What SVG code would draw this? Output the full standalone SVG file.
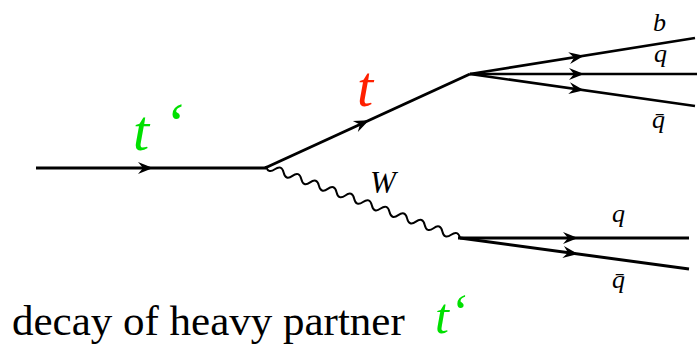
<svg xmlns="http://www.w3.org/2000/svg" xmlns:xlink="http://www.w3.org/1999/xlink" width="697" height="346" viewBox="0 0 697 346">
<style>
.f{stroke:#000;stroke-width:3;fill:none;stroke-linecap:butt}
.f2{stroke:#000;stroke-width:2.6;fill:none}
.w{stroke:#000;stroke-width:2;fill:none}
text{font-family:'Liberation Serif','DejaVu Serif',serif}
</style>
<defs>
<path id="ah" d="M0,0 L-15,-6 L-10,0 L-15,6 Z" fill="#000"/>
</defs>
<g id="connectors">
<line class="f" x1="36" y1="168" x2="266" y2="168"/>
<use xlink:href="#ah" transform="translate(153,168)"/>
<line class="f" x1="265" y1="168" x2="470" y2="74"/>
<use xlink:href="#ah" transform="translate(369,120.3) rotate(-24.6)"/>
<path class="w" d="M266 166 q1.973 8.2 8.818 3.273 t8.818 3.273 t8.818 3.273 t8.818 3.273 t8.818 3.273 t8.818 3.273 t8.818 3.273 t8.818 3.273 t8.818 3.273 t8.818 3.273 t8.818 3.273 t8.818 3.273 t8.818 3.273 t8.818 3.273 t8.818 3.273 t8.818 3.273 t8.818 3.273 t8.818 3.273 t8.818 3.273 t8.818 3.273 t8.818 3.273 t8.818 3.273"/>
<line class="f2" x1="470" y1="74" x2="695" y2="38"/>
<line class="f2" x1="470" y1="74" x2="697" y2="74"/>
<line class="f2" x1="470" y1="74" x2="695" y2="106"/>
<use xlink:href="#ah" transform="translate(584,55.8) rotate(-9.1)"/>
<use xlink:href="#ah" transform="translate(584,74)"/>
<use xlink:href="#ah" transform="translate(584,90.2) rotate(8.1)"/>
<line class="f" x1="458" y1="238" x2="689" y2="238"/>
<line class="f" x1="460" y1="238" x2="689" y2="269"/>
<use xlink:href="#ah" transform="translate(578,238)"/>
<use xlink:href="#ah" transform="translate(578,254) rotate(7.7)"/>
</g>
<g id="t-prime-label" font-style="italic" fill="#00e000" font-size="58">
<text x="133" y="150">t</text>
<text x="164" y="142">‘</text>
</g>
<g id="t-label">
<text x="357" y="106" font-size="58" font-style="italic" fill="#ff2000">t</text>
</g>
<g id="W-label">
<text x="370" y="193" font-size="31" font-style="italic">W</text>
</g>
<g id="upper-labels" font-style="italic" font-size="26">
<text x="653" y="31">b</text>
<text x="654" y="62">q</text>
<text x="652" y="128">q̄</text>
</g>
<g id="lower-labels" font-style="italic" font-size="26">
<text x="612" y="222">q</text>
<text x="612" y="288">q̄</text>
</g>
<g id="caption">
<text x="12" y="335" font-size="43">decay of heavy partner</text>
<text x="435" y="333" font-size="50" font-style="italic" fill="#00e000">t</text>
<text x="450" y="329" font-size="50" font-style="italic" fill="#00e000">‘</text>
</g>
</svg>
